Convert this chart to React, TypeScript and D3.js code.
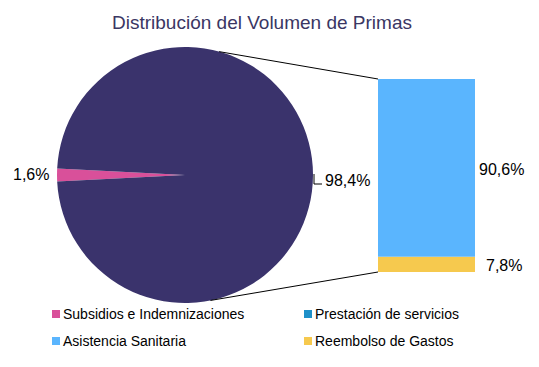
import * as d3 from "d3";
import React from "react";

const pieLabels = ["Subsidios e Indemnizaciones", "Otros"];
const pieValues = [1.6, 98.4];
const barLabels = ["Reembolso de Gastos", "Prestación de servicios", "Asistencia Sanitaria"];
const barValues = [7.8, 0, 90.6];
const legendItems = [
  "Subsidios e Indemnizaciones",
  "Prestación de servicios",
  "Asistencia Sanitaria",
  "Reembolso de Gastos",
];

const COLORS: Record<string, string> = {
  "Subsidios e Indemnizaciones": "#d9509a",
  Otros: "#3a336c",
  "Prestación de servicios": "#1e90c9",
  "Asistencia Sanitaria": "#5ab5fe",
  "Reembolso de Gastos": "#f6c94e",
};

const fmt = (v: number) => v.toFixed(1).replace(".", ",") + "%";

const App: React.FC = () => {
  const width = 539;
  const height = 367;
  const cx = 185;
  const cy = 175;
  const r = 128;

  const half = ((pieValues[0] / d3.sum(pieValues)) * 2 * Math.PI) / 2;
  const pie = d3
    .pie<number>()
    .sort(null)
    .startAngle((3 * Math.PI) / 2 - half)
    .endAngle((3 * Math.PI) / 2 - half + 2 * Math.PI);
  const arcs = pie(pieValues);
  const arc = d3.arc<d3.PieArcDatum<number>>().innerRadius(0).outerRadius(r);

  const barX = 378;
  const barW = 97;
  const y = d3.scaleLinear().domain([0, d3.sum(barValues)]).range([272, 79]);
  let acc = 0;
  const stacked = barValues.map((v, i) => {
    const s = { label: barLabels[i], value: v, y0: acc, y1: acc + v };
    acc += v;
    return s;
  });

  // connector lines from pie edge to bar corners
  const topAng = 0.27;
  const botAng = Math.PI - 0.2;
  const pt = (a: number) => [cx + r * Math.sin(a), cy - r * Math.cos(a)];
  const [tx, ty] = pt(topAng);
  const [bx, by] = pt(botAng);

  return (
    <svg
      width={width}
      height={height}
      style={{ position: "absolute", left: 0, top: 0, background: "#fff" }}
      fontFamily="'Liberation Sans', Arial, sans-serif"
    >
      <text x={262} y={29} textAnchor="middle" fontSize={19} fill="#3a3663">
        Distribución del Volumen de Primas
      </text>
      <g transform={`translate(${cx},${cy})`}>
        {arcs.map((d, i) => (
          <path key={i} d={arc(d) || ""} fill={COLORS[pieLabels[i]]} />
        ))}
      </g>
      <line x1={tx} y1={ty} x2={barX} y2={y(d3.sum(barValues))} stroke="#000" strokeWidth={1} />
      <line x1={bx} y1={by} x2={barX} y2={y(0)} stroke="#000" strokeWidth={1} />
      {stacked
        .filter((s) => s.value > 0)
        .map((s) => (
          <rect
            key={s.label}
            x={barX}
            y={y(s.y1)}
            width={barW}
            height={y(s.y0) - y(s.y1)}
            fill={COLORS[s.label]}
          />
        ))}
      <text x={13} y={180} fontSize={16} fill="#000">
        {fmt(pieValues[0])}
      </text>
      <path d="M314,174 L314,184 L322,184" fill="none" stroke="#000" strokeWidth={1} />
      <text x={325} y={186} fontSize={16} fill="#000">
        {fmt(pieValues[1])}
      </text>
      <text x={479} y={175} fontSize={16} fill="#000">
        {fmt(barValues[2])}
      </text>
      <text x={486} y={271} fontSize={16} fill="#000">
        {fmt(barValues[0])}
      </text>
      {legendItems.map((l, i) => {
        const lx = i % 2 === 0 ? 52 : 304;
        const ly = i < 2 ? 319 : 346;
        return (
          <g key={l}>
            <rect x={lx} y={ly - 9} width={8} height={8} fill={COLORS[l]} />
            <text x={lx + 11} y={ly} fontSize={14} fill="#000">
              {l}
            </text>
          </g>
        );
      })}
    </svg>
  );
};

export default App;
